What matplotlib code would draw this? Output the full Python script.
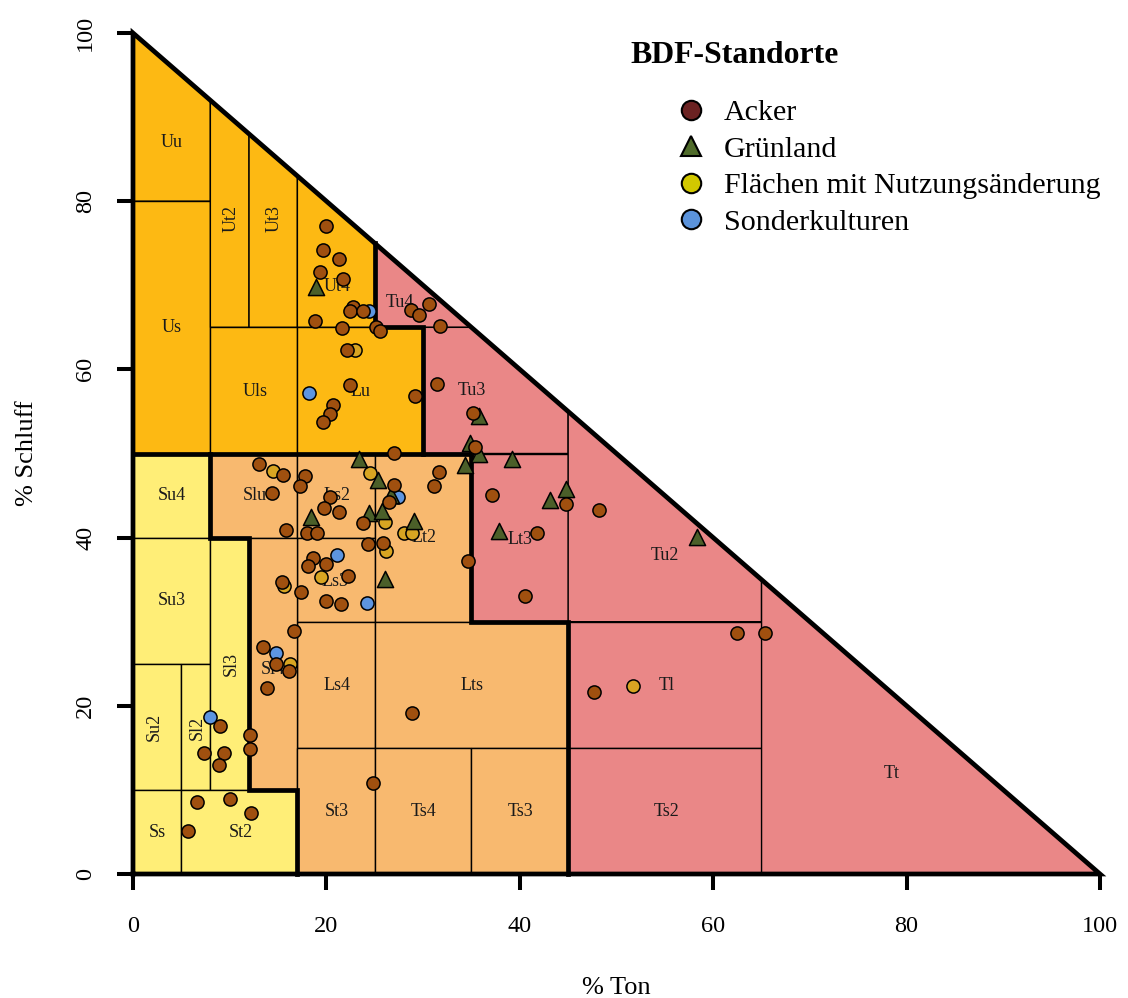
import matplotlib
matplotlib.use("Agg")
import matplotlib.pyplot as plt
from matplotlib.patches import Polygon
from matplotlib.lines import Line2D

plt.rcParams['font.family'] = ['Liberation Serif', 'DejaVu Serif']

# BDF-Standorte, Werte in % Ton / % Schluff
acker_ton = [20.0, 19.7, 21.3, 19.3, 21.7, 22.7, 22.4, 23.8, 18.8, 21.6, 25.1, 25.5, 22.1, 22.4,
             29.2, 20.7, 20.4, 19.6, 28.7, 29.6, 30.6, 31.4, 31.7, 27.0,
             13.0, 15.5, 17.8, 17.3, 14.4, 27.0, 26.5, 20.4, 19.8, 21.3, 23.8, 31.6, 31.1,
             15.8, 18.0, 19.0, 24.3, 25.9, 18.6, 18.1, 20.0, 22.2, 15.4, 17.4, 20.0, 21.5,
             16.6, 13.4, 14.8, 16.1, 13.9, 28.9, 9.0, 7.3, 9.4, 8.9, 12.1, 12.1, 24.8,
             6.6, 10.0, 12.2, 5.7,
             35.2, 35.4, 37.1, 44.8, 48.2, 41.8, 34.6, 40.5, 62.5, 65.4, 47.7]
acker_schluff = [77.0, 74.2, 73.1, 71.6, 70.8, 67.4, 66.9, 66.9, 65.7, 64.9, 65.0, 64.6, 62.3, 58.1,
                 56.8, 55.8, 54.7, 53.7, 67.1, 66.5, 67.8, 58.3, 65.2, 50.1,
                 48.8, 47.4, 47.3, 46.1, 45.3, 46.3, 44.2, 44.8, 43.5, 43.0, 41.7, 47.8, 46.1,
                 40.9, 40.6, 40.6, 39.2, 39.4, 37.6, 36.6, 36.9, 35.4, 34.7, 33.5, 32.5, 32.1,
                 28.9, 27.0, 25.0, 24.1, 22.1, 19.2, 17.6, 14.4, 14.4, 13.0, 16.5, 14.9, 10.8,
                 8.6, 8.9, 7.3, 5.1,
                 54.8, 50.8, 45.1, 44.0, 43.3, 40.5, 37.2, 33.1, 28.7, 28.6, 21.7]

gruen_ton = [18.9, 23.4, 25.3, 26.7, 18.4, 24.4, 25.7, 29.1, 26.1, 35.8, 34.9, 35.8,
             39.2, 34.3, 43.1, 44.8, 58.3, 37.9]
gruen_schluff = [69.8, 49.4, 46.9, 45.1, 42.4, 42.9, 43.2, 42.0, 35.1, 54.4, 51.3, 49.9,
                 49.3, 48.6, 44.5, 45.8, 40.1, 40.8]

wechsel_ton = [23.0, 14.5, 24.5, 26.1, 28.0, 28.9, 26.2, 19.4, 15.6, 16.2, 51.7]
wechsel_schluff = [62.3, 47.9, 47.7, 41.9, 40.6, 40.6, 38.4, 35.3, 34.3, 25.0, 22.3]

sonder_ton = [24.4, 18.2, 27.4, 21.1, 24.2, 14.8, 8.0]
sonder_schluff = [66.9, 57.2, 44.8, 37.9, 32.2, 26.3, 18.7]

# Bodenarten KA5: Name, Hauptgruppe, Ton von/bis, Schluff von/bis
klassen = [
    ('Uu', 'U', 0, 8, 80, 100), ('Us', 'U', 0, 8, 50, 80), ('Ut2', 'U', 8, 12, 65, 100),
    ('Ut3', 'U', 12, 17, 65, 100), ('Ut4', 'U', 17, 25, 65, 100), ('Uls', 'U', 8, 17, 50, 65),
    ('Lu', 'U', 17, 30, 50, 65),
    ('Su4', 'S', 0, 8, 40, 50), ('Su3', 'S', 0, 8, 25, 40), ('Su2', 'S', 0, 5, 10, 25),
    ('Sl2', 'S', 5, 8, 10, 25), ('Sl3', 'S', 8, 12, 10, 40), ('Ss', 'S', 0, 5, 0, 10),
    ('St2', 'S', 5, 17, 0, 10),
    ('Slu', 'L', 8, 17, 40, 50), ('Ls2', 'L', 17, 25, 40, 50), ('Ls3', 'L', 17, 25, 30, 40),
    ('Ls4', 'L', 17, 25, 15, 30), ('Sl4', 'L', 12, 17, 10, 40), ('Lt2', 'L', 25, 35, 30, 50),
    ('Lts', 'L', 25, 45, 15, 30), ('St3', 'L', 17, 25, 0, 15), ('Ts4', 'L', 25, 35, 0, 15),
    ('Ts3', 'L', 35, 45, 0, 15),
    ('Tu4', 'T', 25, 35, 65, 100), ('Tu3', 'T', 30, 45, 50, 65), ('Lt3', 'T', 35, 45, 30, 50),
    ('Tu2', 'T', 45, 65, 30, 100), ('Tl', 'T', 45, 65, 15, 30), ('Ts2', 'T', 45, 65, 0, 15),
    ('Tt', 'T', 65, 100, 0, 100),
]
farben = {'U': '#FDB913', 'S': '#FFEE77', 'L': '#F8B96F', 'T': '#EA8787'}

# Beschriftung: Ton, Schluff, Drehung
beschriftung = {
    'Uu': (4, 87, 0), 'Us': (4, 65, 0), 'Ut2': (10.1, 78, 90), 'Ut3': (14.6, 78, 90),
    'Ut4': (21.1, 69.9, 0), 'Uls': (12.6, 57.4, 0), 'Lu': (23.5, 57.4, 0),
    'Su4': (4, 45, 0), 'Su3': (4, 32.5, 0), 'Su2': (2.2, 17.5, 90), 'Sl2': (6.6, 17.4, 90),
    'Sl3': (10.2, 25, 90), 'Ss': (2.5, 4.9, 0), 'St2': (11.1, 4.9, 0),
    'Slu': (12.6, 45, 0), 'Ls2': (21.1, 45, 0), 'Ls3': (20.9, 34.8, 0), 'Ls4': (21.1, 22.4, 0),
    'Sl4': (14.5, 24.3, 0), 'Lt2': (30.1, 40, 0), 'Lts': (35.1, 22.4, 0), 'St3': (21.1, 7.4, 0),
    'Ts4': (30, 7.4, 0), 'Ts3': (40.1, 7.4, 0),
    'Tu4': (27.6, 68, 0), 'Tu3': (35, 57.5, 0), 'Lt3': (40, 39.8, 0), 'Tu2': (55, 37.9, 0),
    'Tl': (55.2, 22.4, 0), 'Ts2': (55.2, 7.4, 0), 'Tt': (78.5, 12, 0),
}

# Grenzen der Hauptgruppen (dicke Linien)
grenzen = [
    [(0, 0), (100, 0), (0, 100), (0, 0)],
    [(0, 50), (35, 50)],
    [(25, 75), (25, 65), (30, 65), (30, 50)],
    [(8, 50), (8, 40), (12, 40), (12, 10), (17, 10), (17, 0)],
    [(35, 50), (35, 30), (45, 30), (45, 0)],
]


def clip_diag(t0, t1, u0, u1):
    # Rechteck auf Ton + Schluff <= 100 beschneiden
    pts = [(t0, u0), (t1, u0), (t1, u1), (t0, u1)]
    out = []
    for i in range(4):
        p, q = pts[i], pts[(i + 1) % 4]
        dp = p[0] + p[1] - 100
        dq = q[0] + q[1] - 100
        if dp <= 0:
            out.append(p)
        if (dp <= 0) != (dq <= 0):
            s = dp / (dp - dq)
            out.append((p[0] + s * (q[0] - p[0]), p[1] + s * (q[1] - p[1])))
    return out


fig = plt.figure(figsize=(11.28, 9.98), dpi=100)
ax = fig.add_axes([133 / 1128, 124 / 998, 967 / 1128, 841 / 998])

for name, gruppe, t0, t1, u0, u1 in klassen:
    poly = Polygon(clip_diag(t0, t1, u0, u1), closed=True, facecolor=farben[gruppe],
                   edgecolor='black', linewidth=1.0, zorder=1)
    ax.add_patch(poly)
    tx, ty, rot = beschriftung[name]
    ax.text(tx, ty, name, rotation=rot, ha='center', va='center', fontsize=13,
            color='#1a1a1a', zorder=2)

for linie in grenzen:
    xs = [p[0] for p in linie]
    ys = [p[1] for p in linie]
    ax.plot(xs, ys, color='black', linewidth=3.4, solid_capstyle='projecting',
            solid_joinstyle='miter', clip_on=False, zorder=3)

ax.scatter(sonder_ton, sonder_schluff, s=90, marker='o', c='#5D95E0', edgecolors='black',
           linewidths=1.1, zorder=4, clip_on=False)
ax.scatter(wechsel_ton, wechsel_schluff, s=90, marker='o', c='#D8A522', edgecolors='black',
           linewidths=1.1, zorder=5, clip_on=False)
ax.scatter(gruen_ton, gruen_schluff, s=135, marker='^', c='#4B5F29', edgecolors='black',
           linewidths=1.1, zorder=6, clip_on=False)
ax.scatter(acker_ton, acker_schluff, s=90, marker='o', c='#A0500F', edgecolors='black',
           linewidths=1.1, zorder=7, clip_on=False)

ax.set_xlim(0, 100)
ax.set_ylim(0, 100)
for sp in ax.spines.values():
    sp.set_visible(False)
ticks = [0, 20, 40, 60, 80, 100]
ax.set_xticks(ticks)
ax.set_yticks(ticks)
ax.set_xticklabels([str(t) for t in ticks])
ax.set_yticklabels([str(t) for t in ticks], rotation=90, va='center')
ax.tick_params(axis='both', length=11.5, width=2.9, labelsize=17.5, color='black')
ax.tick_params(axis='x', pad=19)
ax.tick_params(axis='y', pad=15)

ax.set_xlabel('% Ton', fontsize=19)
ax.set_ylabel('% Schluff', fontsize=19)
ax.xaxis.set_label_coords(0.5, (874 - 988) / 841)
ax.xaxis.label.set_va('center')
ax.yaxis.set_label_coords((27 - 133) / 967, 0.5)
ax.yaxis.label.set_va('center')

handles = [
    Line2D([], [], linestyle='none', marker='o', markersize=14, markerfacecolor='#6B2222',
           markeredgecolor='black', markeredgewidth=1.5, label='Acker'),
    Line2D([], [], linestyle='none', marker='^', markersize=15, markerfacecolor='#4F6B2A',
           markeredgecolor='black', markeredgewidth=1.5, label='Grünland'),
    Line2D([], [], linestyle='none', marker='o', markersize=14, markerfacecolor='#D2C800',
           markeredgecolor='black', markeredgewidth=1.5, label='Flächen mit Nutzungsänderung'),
    Line2D([], [], linestyle='none', marker='o', markersize=14, markerfacecolor='#5B93DB',
           markeredgecolor='black', markeredgewidth=1.5, label='Sonderkulturen'),
]
fig.legend(handles=handles, loc='center left', bbox_to_anchor=(676 / 1128, 1 - 167.5 / 998),
           frameon=False, fontsize=21.6, handlelength=1.0, handletextpad=0.6,
           borderpad=0, borderaxespad=0, labelspacing=0.32)
fig.text(630.7 / 1128, 1 - 55.8 / 998, 'BDF-Standorte', fontsize=22.9, fontweight='bold',
         ha='left', va='center')

plt.savefig('out.png', dpi=100)
